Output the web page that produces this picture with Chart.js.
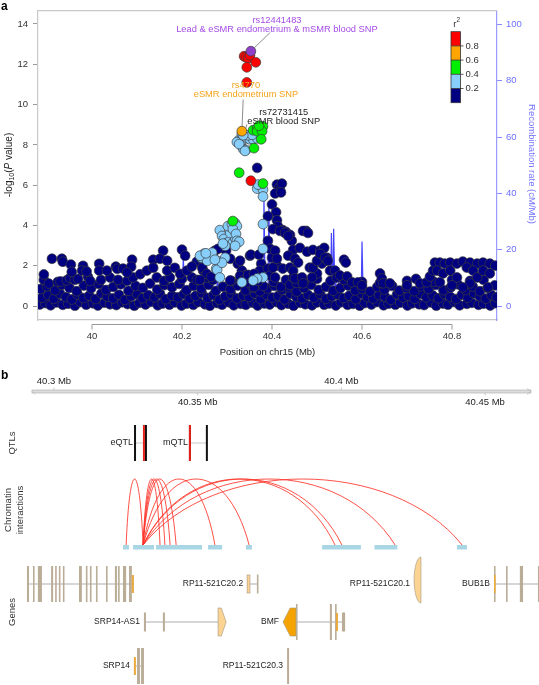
<!DOCTYPE html>
<html>
<head>
<meta charset="utf-8">
<script src="https://cdn.jsdelivr.net/npm/chart.js@4.4.1/dist/chart.umd.min.js"></script>
<style>
  html, body { margin: 0; padding: 0; background: #fff; }
  canvas { display: block; }
</style>
</head>
<body>
<canvas id="locus" width="539" height="360"></canvas>
<canvas id="tracks" width="539" height="325"></canvas>
<script>
const FONT = '"Liberation Sans", Arial, sans-serif';

// ================= panel a : data =================
const xTicks = [40, 40.2, 40.4, 40.6, 40.8];
const pTicks = [0, 2, 4, 6, 8, 10, 12, 14];
const recombTicks = [0, 20, 40, 60, 80, 100];
const r2Labels = ['0.8', '0.6', '0.4', '0.2'];
const r2Colors = ['#ff0000', '#ffa500', '#00ee00', '#87cefa', '#000080'];

// [position Mb, -log10 P]
const snpLead = [[40.353, 12.65]];
const snpRed = [[40.338,12.4],[40.342,12.35],[40.347,12.3],[40.351,12.45],[40.364,12.1],[40.344,11.85],[40.344,11.1],[40.353,6.22]];
const snpOrange = [[40.333,8.68]];
const snpGreen = [[40.358,8.73],[40.367,8.82],[40.38,8.92],[40.367,8.68],[40.378,8.68],[40.36,7.84],[40.376,8.28],[40.327,6.62],[40.38,6.08],[40.313,4.22],[40.371,8.95]];
const snpLightBlue = [
  [40.327,8.24],[40.336,8.33],[40.344,8.33],[40.351,8.28],[40.358,8.28],[40.367,8.33],[40.331,7.99],[40.336,7.8],[40.342,7.75],[40.322,8.14],[40.333,8.53],[40.347,8.48],[40.327,8.04],[40.34,7.7],[40.356,8.5],[40.336,8.48],
  [40.367,5.83],[40.38,5.78],[40.38,5.44],[40.369,6.03],[40.38,4.07],[40.38,2.84],[40.38,1.42],[40.367,1.37],[40.358,1.27],[40.333,1.18],[40.276,1.86],
  [40.249,2.6],[40.256,2.5],[40.262,2.4],[40.269,2.4],[40.278,2.25],[40.244,2.4],[40.256,2.25],[40.278,1.8],[40.284,1.42],[40.296,2.4],[40.24,2.5],[40.267,2.65],[40.289,2.15],[40.253,2.62],[40.273,2.3],
  [40.284,3.77],[40.289,3.48],[40.293,3.33],[40.3,3.14],[40.307,3.24],[40.313,3.14],[40.318,3.38],[40.307,3.63],[40.302,3.97],[40.311,4.07],[40.318,4.12],[40.322,3.97],[40.313,3.82],[40.32,3.58],[40.322,3.24],[40.327,3.19],[40.318,2.99],[40.296,2.99],[40.291,3.1]
];
const snpNavy = [
  // bottom band
  [39.884,0.08],[39.896,0.15],[39.908,0.04],[39.921,0.18],[39.935,0.06],[39.947,0.12],[39.962,0.02],[39.974,0.2],[39.987,0.07],[40.002,0.14],[40.013,0.03],[40.028,0.17],[40.04,0.09],[40.054,0.05],[40.067,0.19],[40.079,0.1],[40.094,0.02],[40.105,0.16],[40.119,0.08],[40.131,0.21],[40.146,0.04],[40.157,0.13],[40.172,0.07],[40.184,0.18],[40.199,0.03],[40.21,0.12],[40.225,0.06],[40.236,0.2],[40.251,0.09],[40.262,0.02],[40.278,0.15],[40.289,0.07],[40.304,0.19],[40.315,0.04],[40.331,0.11],[40.342,0.06],[40.357,0.17],[40.368,0.03],[40.383,0.13],[40.395,0.08],[40.41,0.2],[40.421,0.05],[40.436,0.12],[40.448,0.02],[40.463,0.16],[40.474,0.09],[40.489,0.04],[40.5,0.18],[40.516,0.07],[40.527,0.13],[40.542,0.03],[40.553,0.19],[40.568,0.06],[40.58,0.11],[40.595,0.02],[40.606,0.15],[40.621,0.08],[40.633,0.2],[40.648,0.04],[40.659,0.12],[40.674,0.07],[40.685,0.17],[40.701,0.03],[40.712,0.14],[40.727,0.09],[40.738,0.05],[40.753,0.18],[40.765,0.02],[40.78,0.13],[40.791,0.07],[40.806,0.2],[40.817,0.04],[40.833,0.11],[40.844,0.16],[40.859,0.06],[40.87,0.12],[40.885,0.03],[40.896,0.15],
  [39.889,0.42],[39.903,0.55],[39.915,0.36],[39.929,0.61],[39.942,0.45],[39.955,0.33],[39.968,0.58],[39.981,0.4],[39.994,0.52],[40.008,0.35],[40.021,0.63],[40.034,0.47],[40.047,0.38],[40.06,0.56],[40.073,0.31],[40.087,0.49],[40.1,0.6],[40.112,0.39],[40.125,0.54],[40.139,0.44],[40.151,0.62],[40.164,0.34],[40.178,0.51],[40.191,0.43],[40.204,0.59],[40.217,0.37],[40.23,0.5],[40.244,0.64],[40.257,0.41],[40.27,0.55],[40.283,0.32],[40.296,0.48],[40.309,0.6],[40.322,0.38],[40.336,0.52],[40.349,0.45],[40.362,0.63],[40.375,0.35],[40.388,0.57],[40.401,0.42],[40.414,0.5],[40.428,0.33],[40.441,0.61],[40.454,0.46],[40.467,0.38],[40.48,0.55],[40.493,0.42],[40.507,0.6],[40.52,0.36],[40.533,0.49],[40.546,0.57],[40.559,0.4],[40.572,0.52],[40.586,0.34],[40.599,0.62],[40.612,0.45],[40.625,0.38],[40.638,0.55],[40.651,0.47],[40.664,0.31],[40.678,0.58],[40.691,0.43],[40.704,0.5],[40.717,0.36],[40.73,0.61],[40.743,0.44],[40.757,0.53],[40.77,0.39],[40.783,0.6],[40.796,0.46],[40.809,0.35],[40.822,0.56],[40.835,0.42],[40.849,0.63],[40.862,0.48],[40.875,0.37],[40.888,0.54],[40.899,0.44],
  [39.886,0.85],[39.9,0.98],[39.918,0.78],[39.933,1.05],[39.95,0.9],[39.966,0.74],[39.982,1.02],[39.998,0.88],[40.015,1.1],[40.031,0.8],[40.047,0.95],[40.064,1.08],[40.081,0.76],[40.097,1.0],[40.113,0.9],[40.129,1.12],[40.145,0.82],[40.161,1.04],[40.178,0.93],[40.194,1.1],[40.21,0.79],[40.226,1.0],[40.243,0.87],[40.259,1.06],[40.275,0.75],[40.291,0.96],[40.308,0.84],[40.324,1.02],[40.341,0.78],[40.357,0.92],[40.373,0.73],[40.39,0.88],[40.406,1.0],[40.422,0.8],[40.438,0.94],[40.455,0.72],[40.471,0.9],[40.487,1.05],[40.504,0.8],[40.52,0.95],[40.536,0.76],[40.552,0.9],[40.569,1.02],[40.585,0.78],[40.601,0.86],[40.618,0.72],[40.634,0.95],[40.65,0.82],[40.667,1.0],[40.683,0.77],[40.699,0.9],[40.716,0.74],[40.732,0.98],[40.748,0.85],[40.764,1.05],[40.781,0.79],[40.797,0.92],[40.813,1.08],[40.83,0.8],[40.846,0.97],[40.862,0.74],[40.879,0.9],[40.895,1.03],
  [39.893,1.3],[39.904,1.12],[39.924,1.2],[39.93,1.22],[39.944,1.28],[39.951,1.4],[39.962,1.3],[39.969,1.35],[39.991,1.45],[39.996,1.25],[40.02,1.3],[40.04,1.42],[40.058,1.3],[40.078,1.25],[40.091,1.42],[40.107,1.58],[40.144,1.42],[40.16,1.25],[40.173,1.42],[40.2,1.35],[40.222,1.42],[40.233,1.3],[40.256,1.42],[40.269,1.3],[40.31,1.25],[40.33,1.3],[40.35,1.15],[40.47,1.2],[40.5,1.35],[40.53,1.25],[40.56,1.3],[40.6,1.2],[40.64,1.15],[40.7,1.25],[40.72,1.35],[40.76,1.2],[40.8,1.3],[40.84,1.25],[40.87,1.3],
  // scattered, left half
  [39.893,1.57],[39.911,2.35],[39.933,2.35],[39.935,2.2],[39.953,2.06],[39.98,2.0],[39.978,1.76],[39.988,1.72],[39.955,1.7],[40.016,2.1],[40.016,1.76],[40.033,1.76],[40.053,1.96],[40.056,1.85],[40.069,1.86],[40.089,2.3],[40.087,1.95],[40.078,1.67],[40.122,1.76],[40.136,2.3],[40.136,1.9],[40.158,2.75],[40.151,2.35],[40.167,2.25],[40.167,1.76],[40.184,1.9],[40.196,1.6],[40.2,2.8],[40.207,2.5],[40.211,1.76],[40.233,2.2],[40.222,1.96],[40.244,2.35],[40.247,1.76],
  // around the peak
  [40.307,2.35],[40.324,2.1],[40.298,2.75],[40.273,2.75],[40.28,2.84],[40.329,2.25],[40.307,1.27],[40.333,1.76],[40.351,2.5],[40.353,2.55],[40.371,2.55],[40.376,2.1],[40.373,1.76],[40.34,1.52],[40.367,6.86],
  [40.329,1.5],[40.338,1.3],[40.347,1.55],[40.36,1.6],[40.245,1.9],[40.255,1.6],[40.265,1.45],[40.24,1.3],[40.404,1.2],[40.42,0.95],[40.431,1.3],[40.44,1.05],[40.455,1.15],[40.38,1.0],[40.36,0.95],[40.37,1.25],
  // right of the peak
  [40.411,6.03],[40.416,5.88],[40.418,5.74],[40.407,5.59],[40.4,5.05],[40.409,4.66],[40.391,4.46],[40.411,4.26],[40.413,3.97],[40.424,3.77],[40.431,3.68],[40.44,3.53],[40.444,3.24],[40.391,3.24],[40.396,2.84],[40.4,2.4],[40.391,1.86],[40.396,1.52],[40.447,2.79],[40.462,2.89],[40.476,3.73],[40.478,2.7],[40.491,2.79],[40.507,2.75],[40.516,2.89],[40.522,2.4],[40.511,2.11],[40.5,1.62],[40.484,1.91],[40.462,1.37],[40.447,1.42],[40.411,2.01],[40.424,1.86],
  [40.422,6.08],[40.42,5.64],[40.402,3.82],[40.407,2.75],[40.411,2.35],[40.402,1.91],[40.407,1.42],[40.418,3.73],[40.429,3.63],[40.436,3.48],[40.469,3.73],[40.48,3.63],[40.44,1.91],[40.447,1.76],[40.451,1.37],[40.467,1.42],[40.469,1.13],[40.489,1.42],[40.491,1.91],[40.5,2.25],[40.507,2.6],[40.518,2.4],[40.524,2.25],[40.529,1.76],[40.54,1.76],[40.544,1.42],[40.551,1.52],[40.56,2.3],[40.564,2.16],[40.567,1.47],[40.578,1.18],[40.591,1.18],[40.6,1.03],[40.64,1.62],[40.644,1.37],[40.647,1.13],[40.662,1.13],[40.7,1.03],[40.729,1.13],[40.744,1.18],[40.751,1.47],[40.758,1.76],[40.762,2.16],[40.773,2.16],[40.784,2.11],[40.796,2.16],[40.811,2.11],[40.824,2.21],[40.84,2.16],[40.856,2.11],[40.869,2.16],[40.884,2.11],[40.896,2.01],[40.767,1.76],[40.78,1.62],[40.796,1.76],[40.811,1.42],[40.833,1.91],[40.847,1.76],[40.856,1.42],[40.869,1.76],[40.884,1.62],[40.84,1.13],[40.88,0.93],[40.824,0.93],[40.8,1.03],[40.773,1.18],[40.436,2.5],[40.451,2.35],[40.458,2.16]
];

// recombination rate (cM/Mb)
const recombPos = [39.88,39.924,39.926,39.929,40.0,40.1,40.151,40.153,40.156,40.2,40.203,40.206,40.276,40.279,40.282,40.38,40.382,40.385,40.391,40.393,40.396,40.416,40.418,40.421,40.53,40.532,40.535,40.537,40.54,40.543,40.545,40.548,40.55,40.598,40.6,40.603,40.9];
const recombRate = [0.3,0.4,3.8,0.4,0.3,0.5,0.4,7,0.5,0.4,18,0.5,0.5,12.5,0.6,0.6,41,0.8,0.8,36,0.8,0.6,1.6,0.5,0.5,26,2,27.5,3,10,14,13.5,1,0.6,23,0.6,0.4];

// labelled SNPs
const annotSnps = ['rs12441483', 'rs4770', 'rs72731415'];
const annotNotes = ['Lead & eSMR endometrium & mSMR blood SNP', 'eSMR endometrium SNP', 'eSMR blood SNP'];
const annotColors = ['#a64ce6', '#f5a31a', '#222222'];
const annotTextPos = [40.411, 40.342, 40.426];
const annotTextP = [14.2, 10.93, 9.61];
const leaderFromPos = [40.396, 40.336, 40.344];
const leaderFromP = [13.58, 10.25, 9.02];
const leaderToPos = [40.353, 40.333, 40.338];
const leaderToP = [12.65, 8.68, 8.45];

// ================= panel b : data =================
const rulerTicks = [40.3, 40.35, 40.4, 40.45];
const qtlNames = ['eQTL', 'mQTL'];
const qtlStart = [40.3282, 40.3473];
const qtlEnd = [40.3320, 40.3532];
const qtlLead = [40.3313, 40.3473];

const linkRegions = [[40.3240,40.3261],[40.3275,40.3348],[40.3355,40.3515],[40.3536,40.3585],[40.3668,40.3689],[40.3933,40.4068],[40.4115,40.4195],[40.4402,40.4437]];
const linkFrom = [40.3251,40.3310,40.3310,40.3310,40.3310,40.3310,40.3310,40.3310,40.3310,40.3310,40.3310];
const linkTo =   [40.3310,40.3369,40.3386,40.3404,40.3425,40.3560,40.3679,40.3978,40.4002,40.4187,40.4420];

// exon kinds: c tall tan, s short tan, u short orange, l short light orange,
// R light-orange arrow right, A orange arrow left, T light-orange leaf
const geneNames = ['', 'RP11-521C20.2', 'RP11-521C20.1', 'BUB1B', 'SRP14-AS1', 'BMF', 'SRP14', 'RP11-521C20.3'];
const geneRow = [0, 0, 0, 0, 1, 1, 2, 2];
const geneStart = [40.2906, 40.3672, 40.4253, 40.4531, 40.3313, 40.3797, 40.3278, 40.3811];
const geneEnd = [40.3278, 40.3710, 40.4277, 40.4700, 40.3599, 40.4013, 40.3313, 40.3818];
const geneExons = [
  [[40.2906,40.2913,'c'],[40.2927,40.2930,'c'],[40.2944,40.2958,'c'],[40.2990,40.2997,'c'],[40.3004,40.3007,'c'],[40.3017,40.3021,'c'],[40.3031,40.3035,'c'],[40.3087,40.3097,'c'],[40.3111,40.3115,'c'],[40.3125,40.3129,'c'],[40.3146,40.3150,'c'],[40.3181,40.3184,'c'],[40.3212,40.3219,'c'],[40.3223,40.3226,'c'],[40.3240,40.3251,'c'],[40.3261,40.3271,'c'],[40.3271,40.3278,'u']],
  [[40.3672,40.3682,'l'],[40.3706,40.3710,'s']],
  [[40.4253,40.4277,'T']],
  [[40.4531,40.4535,'c'],[40.4531,40.4535,'u'],[40.4573,40.4576,'c'],[40.4621,40.4632,'c'],[40.4684,40.4688,'c']],
  [[40.3313,40.3320,'s'],[40.3379,40.3386,'s'],[40.3571,40.3599,'R']],
  [[40.3797,40.3842,'A'],[40.3842,40.3846,'c'],[40.3960,40.3967,'c'],[40.3978,40.3981,'c'],[40.3981,40.3988,'u'],[40.4002,40.4013,'s']],
  [[40.3289,40.3299,'c'],[40.3303,40.3313,'c'],[40.3278,40.3285,'u']],
  [[40.3811,40.3818,'c']]
];

const pts = a => a.map(([x, y]) => ({ x, y }));

// ================= panel a =================
const locusDecor = {
  id: 'locusDecor',
  beforeDatasetsDraw(chart) {
    const { ctx, scales: { x, y } } = chart;
    ctx.save();
    ctx.strokeStyle = '#707070';
    ctx.lineWidth = 0.8;
    for (let i = 0; i < annotSnps.length; i++) {
      ctx.beginPath();
      ctx.moveTo(x.getPixelForValue(leaderFromPos[i]), y.getPixelForValue(leaderFromP[i]));
      ctx.lineTo(x.getPixelForValue(leaderToPos[i]), y.getPixelForValue(leaderToP[i]));
      ctx.stroke();
    }
    ctx.restore();
  },
  afterDraw(chart) {
    const { ctx, chartArea: ca, scales: { x, y } } = chart;
    ctx.save();
    // frame top
    ctx.strokeStyle = '#c8c8c8';
    ctx.lineWidth = 1.2;
    ctx.beginPath();
    ctx.moveTo(ca.left, ca.top); ctx.lineTo(ca.right, ca.top);
    ctx.stroke();

    // R-style x axis line under the frame
    const ay = ca.bottom + 4.5;
    ctx.strokeStyle = '#999';
    ctx.lineWidth = 1;
    ctx.beginPath();
    ctx.moveTo(x.getPixelForValue(xTicks[0]), ay);
    ctx.lineTo(x.getPixelForValue(xTicks[xTicks.length - 1]), ay);
    xTicks.forEach(v => {
      const px = x.getPixelForValue(v);
      ctx.moveTo(px, ay); ctx.lineTo(px, ay + 5);
    });
    ctx.stroke();

    // panel letter
    ctx.fillStyle = '#000';
    ctx.font = 'bold 12px ' + FONT;
    ctx.textAlign = 'left';
    ctx.textBaseline = 'alphabetic';
    ctx.fillText('a', 1, 10);

    // x title
    ctx.fillStyle = '#222';
    ctx.font = '9.5px ' + FONT;
    ctx.textAlign = 'center';
    ctx.textBaseline = 'middle';
    ctx.fillText('Position on chr15 (Mb)', (ca.left + ca.right) / 2, 352);

    // y title  -log10(P value)
    ctx.save();
    ctx.translate(9, 165);
    ctx.rotate(-Math.PI / 2);
    const parts = [['-log', '10px ' + FONT, 0], ['10', '7px ' + FONT, 3], ['(', '10px ' + FONT, 0], ['P', 'italic 10px ' + FONT, 0], [' value)', '10px ' + FONT, 0]];
    let tot = 0;
    parts.forEach(p => { ctx.font = p[1]; tot += ctx.measureText(p[0]).width; });
    let cx = -tot / 2;
    ctx.textAlign = 'left';
    ctx.fillStyle = '#222';
    parts.forEach(p => { ctx.font = p[1]; ctx.fillText(p[0], cx, p[2]); cx += ctx.measureText(p[0]).width; });
    ctx.restore();

    // right title
    ctx.save();
    ctx.translate(532, 164);
    ctx.rotate(Math.PI / 2);
    ctx.fillStyle = '#7474ff';
    ctx.font = '9.5px ' + FONT;
    ctx.textAlign = 'center';
    ctx.fillText('Recombination rate (cM/Mb)', 0, 0);
    ctx.restore();

    // SNP labels
    ctx.font = '9.3px ' + FONT;
    ctx.textAlign = 'center';
    ctx.textBaseline = 'middle';
    for (let i = 0; i < annotSnps.length; i++) {
      const tx = x.getPixelForValue(annotTextPos[i]);
      const ty = y.getPixelForValue(annotTextP[i]);
      ctx.fillStyle = annotColors[i];
      ctx.fillText(annotSnps[i], tx, ty);
      ctx.fillText(annotNotes[i], tx, ty + 9);
    }

    // r2 colour bar
    const bx = ca.right - 46, by = ca.top + 21, bw = 9.5, bh = 14.2;
    r2Colors.forEach((c, i) => {
      ctx.fillStyle = c;
      ctx.fillRect(bx, by + i * bh, bw, bh);
    });
    ctx.strokeStyle = '#333';
    ctx.lineWidth = 0.8;
    ctx.strokeRect(bx, by, bw, bh * r2Colors.length);
    ctx.beginPath();
    r2Labels.forEach((l, i) => {
      const yy = by + (i + 1) * bh;
      ctx.moveTo(bx, yy); ctx.lineTo(bx + bw + 3, yy);
    });
    ctx.stroke();
    ctx.fillStyle = '#333';
    ctx.font = '9.5px ' + FONT;
    ctx.textAlign = 'left';
    r2Labels.forEach((l, i) => ctx.fillText(l, bx + bw + 5, by + (i + 1) * bh));
    ctx.textAlign = 'center';
    ctx.fillText('r', bx + bw / 2 - 1, by - 7);
    ctx.font = '6.5px ' + FONT;
    ctx.fillText('2', bx + bw / 2 + 2.5, by - 11);
    ctx.restore();
  }
};

const snpStyle = (data, fill) => ({
  data: pts(data),
  backgroundColor: fill,
  borderColor: '#3c3c3c',
  borderWidth: 0.7,
  pointRadius: 4.9
});

new Chart(document.getElementById('locus'), {
  type: 'scatter',
  data: {
    datasets: [
      snpStyle(snpLead, '#9040c8'),
      snpStyle(snpRed, r2Colors[0]),
      snpStyle(snpOrange, r2Colors[1]),
      snpStyle(snpGreen, r2Colors[2]),
      snpStyle(snpLightBlue, r2Colors[3]),
      snpStyle(snpNavy, r2Colors[4]),
      {
        type: 'line',
        data: recombPos.map((p, i) => ({ x: p, y: recombRate[i] })),
        yAxisID: 'y2',
        borderColor: 'rgba(35,35,255,0.85)',
        borderWidth: 1.2,
        pointRadius: 0,
        fill: false,
        tension: 0
      }
    ]
  },
  options: {
    responsive: false,
    animation: false,
    events: [],
    layout: { padding: { top: 7, left: 0, right: 0, bottom: 0 } },
    plugins: { legend: { display: false }, tooltip: { enabled: false } },
    scales: {
      x: {
        type: 'linear', min: 39.88, max: 40.9,
        afterBuildTicks: s => { s.ticks = xTicks.map(v => ({ value: v })); },
        afterFit: s => { s.height = 40; },
        grid: { display: false, drawTicks: false },
        border: { display: true, color: '#c8c8c8', width: 1.2 },
        ticks: {
          autoSkip: false, maxRotation: 0, padding: 11, color: '#333', font: { family: FONT, size: 9.5 },
          callback: v => String(Math.round(v * 10) / 10)
        }
      },
      y: {
        position: 'left', min: -0.69, max: 14.66,
        afterBuildTicks: s => { s.ticks = pTicks.map(v => ({ value: v })); },
        afterFit: s => { s.width = 38; },
        grid: { drawOnChartArea: false, drawTicks: true, tickLength: 5, color: '#999' },
        border: { display: true, color: '#c8c8c8', width: 1.2 },
        ticks: { padding: 5, color: '#333', font: { family: FONT, size: 9.5 } }
      },
      y2: {
        position: 'right', min: -4.9, max: 104.9,
        afterBuildTicks: s => { s.ticks = recombTicks.map(v => ({ value: v })); },
        afterFit: s => { s.width = 42; },
        grid: { drawOnChartArea: false, drawTicks: true, tickLength: 5, color: '#8a8aff' },
        border: { display: true, color: '#9a9aff', width: 1.2 },
        ticks: { padding: 4, color: '#6f6fff', font: { family: FONT, size: 9.5 } }
      }
    }
  },
  plugins: [locusDecor]
});

// ================= panel b =================
// vertical layout of the tracks (px from top of panel b)
const RULER_Y = 31.5, QTL_Y = 83, QTL_HALF = 18, LINK_BASE = 187, LINK_H = 66;
const ROW_Y = [224, 262, 306];

const trackDecor = {
  id: 'trackDecor',
  afterDraw(chart) {
    const { ctx, chartArea: ca, scales: { x, y } } = chart;
    const px = v => x.getPixelForValue(v);
    const py = v => y.getPixelForValue(v);
    ctx.save();

    ctx.fillStyle = '#000';
    ctx.font = 'bold 12px ' + FONT;
    ctx.textBaseline = 'alphabetic';
    ctx.fillText('b', 1, 19);

    // track titles
    const vtext = (t, cx, cy) => {
      ctx.save(); ctx.translate(cx, cy); ctx.rotate(-Math.PI / 2);
      ctx.textAlign = 'center'; ctx.textBaseline = 'middle'; ctx.fillText(t, 0, 0); ctx.restore();
    };
    ctx.fillStyle = '#333';
    ctx.font = '9.5px ' + FONT;
    vtext('QTLs', 12, py(QTL_Y));
    vtext('Chromatin', 8, py(LINK_BASE - 37));
    vtext('interactions', 20, py(LINK_BASE - 37));
    vtext('Genes', 12, py(ROW_Y[1] - 10));

    // genome ruler
    const ry = py(RULER_Y);
    ctx.fillStyle = '#dcdcdc';
    ctx.fillRect(ca.left, ry - 1.5, ca.right - ca.left, 3);
    ctx.strokeStyle = '#b4b4b4';
    ctx.lineWidth = 0.7;
    ctx.strokeRect(ca.left, ry - 1.5, ca.right - ca.left, 3);
    ctx.beginPath();
    ctx.moveTo(ca.right - 4, ry - 3); ctx.lineTo(ca.right, ry); ctx.lineTo(ca.right - 4, ry + 3);
    ctx.moveTo(ca.left + 3, ry + 3); ctx.lineTo(ca.left, ry);
    ctx.stroke();
    ctx.font = '9.5px ' + FONT;
    ctx.fillStyle = '#222';
    ctx.textAlign = 'center';
    ctx.textBaseline = 'middle';
    rulerTicks.forEach((t, i) => {
      const tx = px(t);
      const up = i % 2 === 0;
      ctx.beginPath();
      ctx.moveTo(tx, up ? ry - 1.5 : ry + 1.5);
      ctx.lineTo(tx, up ? ry - 4 : ry + 4);
      ctx.stroke();
      ctx.fillText(t + ' Mb', tx, up ? ry - 10 : ry + 11);
    });

    // QTLs
    const qy = py(QTL_Y);
    ctx.font = '9px ' + FONT;
    ctx.textAlign = 'right';
    qtlNames.forEach((n, i) => {
      const x0 = px(qtlStart[i]), x1 = px(qtlEnd[i]), xl = px(qtlLead[i]);
      ctx.strokeStyle = '#c8c8c8'; ctx.lineWidth = 1;
      ctx.beginPath(); ctx.moveTo(x0, qy); ctx.lineTo(x1, qy); ctx.stroke();
      ctx.lineWidth = 2;
      ctx.strokeStyle = '#111';
      ctx.beginPath();
      ctx.moveTo(x0, qy - QTL_HALF); ctx.lineTo(x0, qy + QTL_HALF);
      ctx.moveTo(x1, qy - QTL_HALF); ctx.lineTo(x1, qy + QTL_HALF);
      ctx.stroke();
      ctx.strokeStyle = '#e8201c';
      ctx.beginPath(); ctx.moveTo(xl, qy - QTL_HALF); ctx.lineTo(xl, qy + QTL_HALF); ctx.stroke();
      ctx.fillStyle = '#222';
      ctx.fillText(n, Math.min(x0, xl) - 2, qy);
    });

    // chromatin interactions
    const lb = py(LINK_BASE);
    ctx.fillStyle = '#a9d6e5';
    linkRegions.forEach(([s, e]) => ctx.fillRect(px(s), lb - 2, px(e) - px(s), 4.5));
    ctx.strokeStyle = 'rgba(255,50,40,0.85)';
    ctx.lineWidth = 1;
    const ah = (py(LINK_BASE - LINK_H) - lb) * 4 / 3;
    linkFrom.forEach((f, i) => {
      const x0 = px(f), x1 = px(linkTo[i]);
      const a = Math.min(x0, x1), b = Math.max(x0, x1), w = b - a;
      ctx.beginPath();
      ctx.moveTo(a, lb - 2);
      ctx.bezierCurveTo(a + w * 0.22, lb - 2 + ah, b - w * 0.22, lb - 2 + ah, b, lb - 2);
      ctx.stroke();
    });

    // genes
    geneNames.forEach((name, gi) => {
      const cy = py(ROW_Y[geneRow[gi]]);
      const g0 = px(geneStart[gi]), g1 = px(geneEnd[gi]);
      ctx.strokeStyle = '#d6d6d6'; ctx.lineWidth = 2;
      ctx.beginPath(); ctx.moveTo(g0, cy); ctx.lineTo(g1, cy); ctx.stroke();
      geneExons[gi].forEach(([s, e, k]) => {
        const x0 = px(s), x1 = Math.max(px(e), x0 + 1.6), w = x1 - x0;
        ctx.lineWidth = 0.6;
        ctx.strokeStyle = '#a3957f';
        if (k === 'c' || k === 's') {
          const h = k === 'c' ? 18 : 9.5;
          ctx.fillStyle = '#baad98';
          ctx.fillRect(x0, cy - h, w, 2 * h);
        } else if (k === 'u' || k === 'l') {
          ctx.fillStyle = k === 'u' ? '#eaa93a' : '#fbd494';
          ctx.fillRect(x0, cy - 9, w, 18);
          if (k === 'l') ctx.strokeRect(x0, cy - 9, w, 18);
        } else if (k === 'R') {
          ctx.fillStyle = '#fbd494';
          ctx.beginPath();
          ctx.moveTo(x0, cy - 14); ctx.lineTo(x0 + w * 0.4, cy - 14); ctx.lineTo(x1, cy);
          ctx.lineTo(x0 + w * 0.4, cy + 14); ctx.lineTo(x0, cy + 14); ctx.closePath();
          ctx.fill(); ctx.stroke();
        } else if (k === 'A') {
          ctx.fillStyle = '#f5a300';
          ctx.beginPath();
          ctx.moveTo(x0, cy); ctx.lineTo(x0 + w * 0.55, cy - 14); ctx.lineTo(x1, cy - 14);
          ctx.lineTo(x1, cy + 14); ctx.lineTo(x0 + w * 0.55, cy + 14); ctx.closePath();
          ctx.fill(); ctx.stroke();
        } else if (k === 'T') {
          ctx.fillStyle = '#fbd494';
          ctx.beginPath();
          ctx.ellipse(x1, cy - 4, w, 23, 0, Math.PI / 2, Math.PI * 3 / 2);
          ctx.closePath();
          ctx.fill(); ctx.stroke();
        }
      });
      if (name) {
        ctx.fillStyle = '#222';
        ctx.font = '8.5px ' + FONT;
        ctx.textAlign = 'right';
        ctx.textBaseline = 'middle';
        ctx.fillText(name, g0 - 4, cy);
      }
    });
    ctx.restore();
  }
};

new Chart(document.getElementById('tracks'), {
  type: 'scatter',
  data: { datasets: [] },
  options: {
    responsive: false,
    animation: false,
    events: [],
    layout: { padding: { left: 32, right: 8, top: 0, bottom: 0 } },
    plugins: { legend: { display: false }, tooltip: { enabled: false } },
    scales: {
      x: { type: 'linear', min: 40.29235, max: 40.46598, display: false },
      y: { type: 'linear', min: 0, max: 325, reverse: true, display: false }
    }
  },
  plugins: [trackDecor]
});
</script>
</body>
</html>
